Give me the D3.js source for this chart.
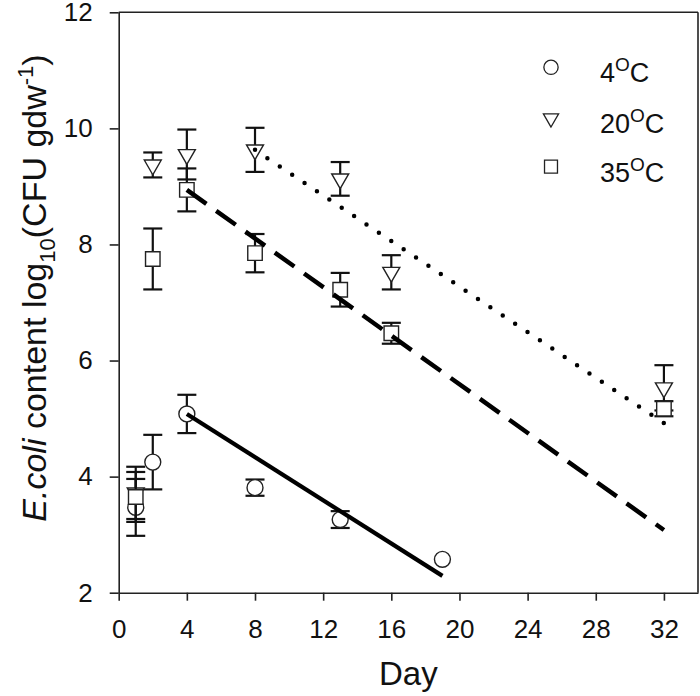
<!DOCTYPE html>
<html>
<head>
<meta charset="utf-8">
<script src="https://cdn.jsdelivr.net/npm/d3@7"></script>
<style>
  body { margin: 0; background: #fff; }
  svg { display: block; font-family: "Liberation Sans", Arial, sans-serif; }
</style>
</head>
<body>
<div id="chart"></div>
<script>
// ---- data ----
const days4 = [1, 2, 4, 8, 13, 19];
const vals4 = [3.47, 4.25, 5.08, 3.81, 3.26, 2.575];
const errs4 = [0.49, 0.47, 0.33, 0.14, 0.145, 0];

const days20 = [1, 2, 4, 8, 13, 16, 32];
const vals20 = [3.72, 9.37, 9.55, 9.63, 9.13, 7.52, 5.53];
const errs20 = [0.45, 0.215, 0.43, 0.38, 0.29, 0.295, 0.39];

const days35 = [1, 2, 4, 8, 13, 16, 32];
const vals35 = [3.65, 7.75, 8.94, 7.85, 7.22, 6.47, 5.17];
const errs35 = [0.43, 0.525, 0.37, 0.33, 0.29, 0.18, 0.13];

// regression lines: [day, value] end points
const fit4 = [[4, 5.08], [19, 2.29]];
const fit20 = [[8, 9.63], [32, 4.92]];
const fit35 = [[4, 8.94], [32, 3.08]];

const xTicks = [0, 4, 8, 12, 16, 20, 24, 28, 32];
const yTicks = [2, 4, 6, 8, 10, 12];
const legendLabels = ["4", "20", "35"];

// ---- layout ----
const W = 700, H = 696;
const margin = { left: 118.7, right: 2, top: 12.3, bottom: 103.3 };

const svg = d3.select("#chart").append("svg").attr("width", W).attr("height", H);

const x = d3.scaleLinear().domain([0, 34]).range([margin.left, W - margin.right]);
const y = d3.scaleLinear().domain([2, 12]).range([H - margin.bottom, margin.top]);

const axisColor = "#222";

// frame (top & right)
svg.append("line").attr("x1", x(0)).attr("x2", x(34)).attr("y1", y(12)).attr("y2", y(12))
  .attr("stroke", axisColor).attr("stroke-width", 1.6);
svg.append("line").attr("x1", x(34)).attr("x2", x(34)).attr("y1", y(12)).attr("y2", y(2))
  .attr("stroke", axisColor).attr("stroke-width", 1.6);

const xAxis = svg.append("g").attr("transform", `translate(0,${y(2)})`)
  .call(d3.axisBottom(x).tickValues(xTicks).tickSize(8).tickPadding(19).tickSizeOuter(0));
const yAxis = svg.append("g").attr("transform", `translate(${x(0)},0)`)
  .call(d3.axisLeft(y).tickValues(yTicks).tickSize(9).tickPadding(17).tickSizeOuter(0));

[xAxis, yAxis].forEach(g => {
  g.select(".domain").attr("stroke", axisColor).attr("stroke-width", 1.6);
  g.selectAll(".tick line").attr("stroke", axisColor).attr("stroke-width", 1.6);
  g.selectAll(".tick text").attr("fill", "#111").style("font-size", "26px")
    .style("font-family", "'Liberation Sans', Arial, sans-serif");
});

// axis titles
svg.append("text").attr("x", x(17)).attr("y", 685).attr("text-anchor", "middle")
  .style("font-size", "33px").attr("fill", "#111").text("Day");

const yt = svg.append("text")
  .attr("transform", `translate(46,${288}) rotate(-90)`)
  .attr("text-anchor", "middle").style("font-size", "34px").attr("fill", "#111");
yt.append("tspan").style("font-style", "italic").text("E.coli");
yt.append("tspan").text(" content log");
yt.append("tspan").attr("dy", 9).style("font-size", "22px").text("10");
yt.append("tspan").attr("dy", -9).text("(CFU gdw");
yt.append("tspan").attr("dy", -13).style("font-size", "22px").text("-1");
yt.append("tspan").attr("dy", 13).text(")");

// ---- series ----
function mk(days, vals, errs) {
  return days.map((d, i) => ({ d, v: vals[i], e: errs[i] }));
}
const series = [
  { data: mk(days4, vals4, errs4), sym: d3.symbolCircle, size: 200, rot: 0 },
  { data: mk(days20, vals20, errs20), sym: d3.symbolTriangle, size: 125, rot: 180 },
  { data: mk(days35, vals35, errs35), sym: d3.symbolSquare, size: 210, rot: 0 }
];

const ink = "#111";
const capHalf = 9.5;

series.forEach(s => {
  const g = svg.append("g");
  const eb = g.selectAll(".eb").data(s.data.filter(p => p.e > 0)).join("g");
  eb.append("line").attr("x1", p => x(p.d)).attr("x2", p => x(p.d))
    .attr("y1", p => y(p.v + p.e)).attr("y2", p => y(p.v - p.e))
    .attr("stroke", ink).attr("stroke-width", 2.2);
  eb.append("line").attr("x1", p => x(p.d) - capHalf).attr("x2", p => x(p.d) + capHalf)
    .attr("y1", p => y(p.v + p.e)).attr("y2", p => y(p.v + p.e))
    .attr("stroke", ink).attr("stroke-width", 2.2);
  eb.append("line").attr("x1", p => x(p.d) - capHalf).attr("x2", p => x(p.d) + capHalf)
    .attr("y1", p => y(p.v - p.e)).attr("y2", p => y(p.v - p.e))
    .attr("stroke", ink).attr("stroke-width", 2.2);
  g.selectAll(".m").data(s.data).join("path")
    .attr("d", d3.symbol().type(s.sym).size(s.size))
    .attr("transform", p => `translate(${x(p.d)},${y(p.v)}) rotate(${s.rot})`)
    .attr("fill", "#fff").attr("stroke", "#222").attr("stroke-width", 1.4);
});

// ---- regression lines (on top) ----
const lineGen = d3.line().x(p => x(p[0])).y(p => y(p[1]));
svg.append("path").attr("d", lineGen(fit4)).attr("fill", "none")
  .attr("stroke", "#000").attr("stroke-width", 4.2);
svg.append("path").attr("d", lineGen(fit35)).attr("fill", "none")
  .attr("stroke", "#000").attr("stroke-width", 4.5).attr("stroke-dasharray", "24,12");
svg.append("path").attr("d", lineGen(fit20)).attr("fill", "none")
  .attr("stroke", "#000").attr("stroke-width", 4.5).attr("stroke-linecap", "round")
  .attr("stroke-dasharray", "0,14.9");

// ---- legend ----
const legend = svg.append("g");
const legY = [67.3, 118.3, 166.7];
series.forEach((s, i) => {
  legend.append("path")
    .attr("d", d3.symbol().type(s.sym).size(s.size * 0.8))
    .attr("transform", `translate(551,${legY[i]}) rotate(${s.rot})`)
    .attr("fill", "#fff").attr("stroke", "#222").attr("stroke-width", 1.3);
  const t = legend.append("text").attr("x", 600).attr("y", legY[i] + 15)
    .style("font-size", "27px").attr("fill", "#111");
  t.append("tspan").text(legendLabels[i]);
  t.append("tspan").attr("dy", -11).style("font-size", "19px").text("O");
  t.append("tspan").attr("dy", 11).text("C");
});
</script>
</body>
</html>
